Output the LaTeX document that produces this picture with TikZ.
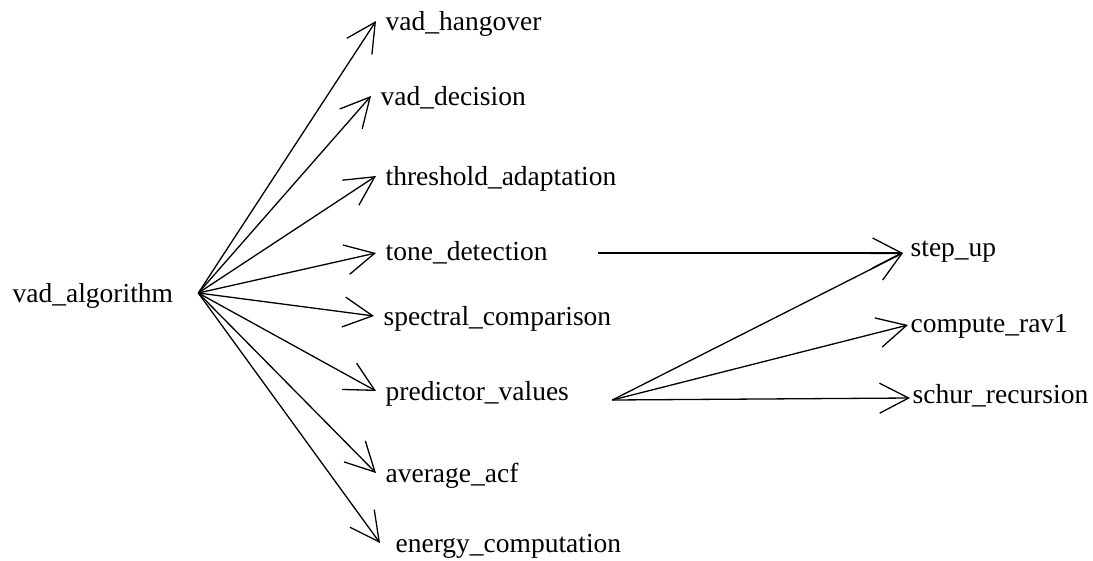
\documentclass[tikz,border=0pt]{standalone}
\usepackage{fontspec}
\setmainfont{Liberation Serif}
\usetikzlibrary{arrows.meta}
\begin{document}
\begin{tikzpicture}[x=1pt,y=-1pt,line width=1.3pt,>={Straight Barb[length=29pt,width=30pt]},
every node/.style={font=\fontsize{27.5}{30}\selectfont,text height=20pt,text depth=2pt,inner xsep=9pt,inner ysep=0pt,anchor=base west}]
\useasboundingbox (0,0) rectangle (1093,560);
\node[inner xsep=0pt, text width=185pt, align=left] (alg) at (12,302){vad\_algorithm};
\node[] (hangover) at (376,30){vad\_hangover};
\draw[->](alg.east) -- (hangover.west);
\node[] (decision) at (371,105){vad\_decision};
\draw[->](alg.east) -- (decision.west);
\node[] (threshold) at (376,185){threshold\_adaptation};
\draw[->](alg.east) -- (threshold.west);
\node[text width=203pt, align=left, text height=16pt] (tone) at (376,260){tone\_detection};
\draw[->](alg.east) -- (tone.west);
\node[] (spectral) at (374,325){spectral\_comparison};
\draw[->](alg.east) -- (spectral.west);
\node[text width=217pt, align=left] (predictor) at (376,400){predictor\_values};
\draw[->](alg.east) -- (predictor.west);
\node[] (acf) at (376,482){average\_acf};
\draw[->](alg.east) -- (acf.west);
\node[inner xsep=15pt] (energy) at (380,552){energy\_computation};
\draw[->](alg.east) -- (energy.west);
\node[inner xsep=7pt, text height=8pt] (stepup) at (903,256){step\_up};
\draw[->](tone.east) -- (stepup.west);
\draw[->](predictor.base east) -- (stepup.west);
\node[inner xsep=2pt, text height=16pt] (rav) at (908,332){compute\_rav1};
\draw[->](predictor.base east) -- (rav.west);
\node[inner xsep=2pt, text height=12pt] (schur) at (910,403){schur\_recursion};
\draw[->](predictor.base east) -- (schur.west);
\end{tikzpicture}
\end{document}
